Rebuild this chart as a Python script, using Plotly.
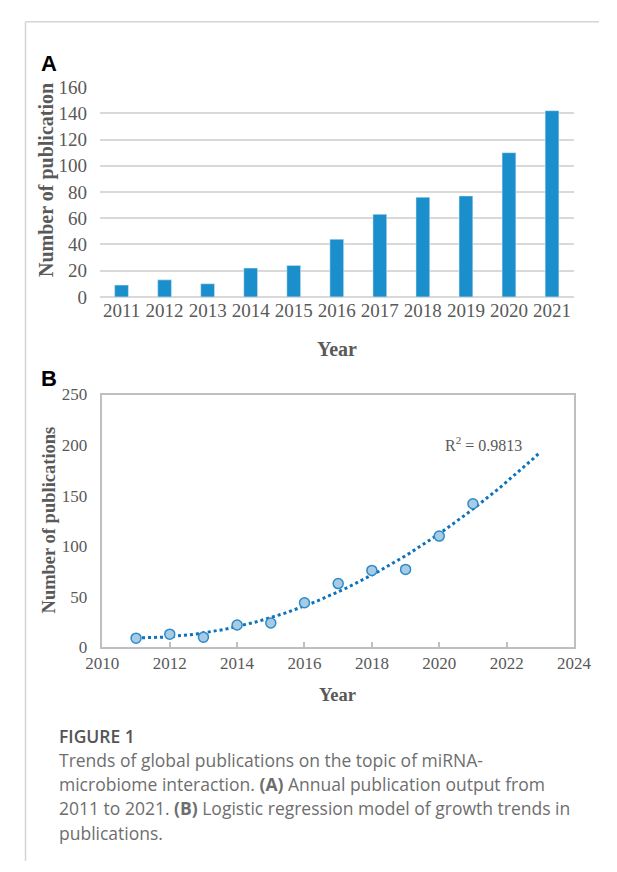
import numpy as np
import plotly.graph_objects as go

# ---- data ----
years = [2011, 2012, 2013, 2014, 2015, 2016, 2017, 2018, 2019, 2020, 2021]
publications = [9, 13, 10, 22, 24, 44, 63, 76, 77, 110, 142]
year_labels = [str(y) for y in years]
r2_text = "R<sup>2</sup> = 0.9813"
caption_title = "FIGURE 1"
caption_lines = [
    "Trends of global publications on the topic of miRNA-",
    "microbiome interaction. <b>(A)</b> Annual publication output from",
    "2011 to 2021. <b>(B)</b> Logistic regression model of growth trends in",
    "publications.",
]

W, H = 617, 872
def px(x): return x / W
def py(y): return 1 - y / H

SERIF = "Liberation Serif, Times New Roman, serif"
SANS = "Liberation Sans, Arial, sans-serif"
CAP = "Open Sans, sans-serif"
TICK_C = "#595959"

# trend line: quadratic fit of the data, extended to 2023
coef = np.polyfit(np.array(years) - 2011, publications, 2)
tx = np.linspace(2011, 2023, 121)
ty = np.polyval(coef, tx - 2011)

fig = go.Figure()
fig.add_trace(go.Bar(x=year_labels, y=publications, marker_color="#1B8FCB",
                     xaxis="x", yaxis="y", showlegend=False))
fig.add_trace(go.Scatter(x=tx, y=ty, mode="lines",
                         line=dict(color="#0A72BE", width=3, dash="dot"),
                         xaxis="x2", yaxis="y2", showlegend=False))
fig.add_trace(go.Scatter(x=years, y=publications, mode="markers",
                         marker=dict(size=10, color="#A7CBE4",
                                     line=dict(color="#2E8BC8", width=1.5)),
                         xaxis="x2", yaxis="y2", showlegend=False))

fig.update_layout(
    width=W, height=H, margin=dict(l=0, r=0, t=0, b=0),
    paper_bgcolor="white", plot_bgcolor="white",
    bargap=0.68,
    xaxis=dict(domain=[px(88), px(590)], anchor="y", type="category",
               showgrid=False, showline=False, ticks="",
               tickfont=dict(family=SERIF, size=19, color=TICK_C)),
    yaxis=dict(domain=[py(294), py(79)], anchor="x", range=[0, 160],
               dtick=20, showgrid=True, gridcolor="#D9D9D9", gridwidth=1.5,
               zeroline=True, zerolinecolor="#D9D9D9", zerolinewidth=1.5,
               showline=False, ticks="", ticklabelstandoff=12,
               tickfont=dict(family=SERIF, size=19, color=TICK_C)),
    xaxis2=dict(domain=[px(90.5), px(590.5)], anchor="y2", range=[2010, 2024],
                dtick=2, showgrid=False, zeroline=False,
                showline=True, linecolor="#BFBFBF", linewidth=1.5, mirror=True,
                ticks="inside", ticklen=6, tickcolor="#BFBFBF", tickwidth=1.5,
                tickfont=dict(family=SERIF, size=17, color=TICK_C)),
    yaxis2=dict(domain=[py(653), py(394)], anchor="x2", range=[0, 250],
                dtick=50, showgrid=False, zeroline=False,
                showline=True, linecolor="#BFBFBF", linewidth=1.5, mirror=True,
                ticks="", ticklabelstandoff=10,
                tickfont=dict(family=SERIF, size=17, color=TICK_C)),
)

ann = []
ann.append(dict(text="<b>A</b>", x=px(23), y=py(55), xanchor="left", yanchor="middle",
                font=dict(family=SANS, size=22, color="black")))
ann.append(dict(text="<b>B</b>", x=px(23), y=py(378), xanchor="left", yanchor="middle",
                font=dict(family=SANS, size=22, color="black")))
ann.append(dict(text="<b>Year</b>", x=px(339), y=py(347), xanchor="center", yanchor="middle",
                font=dict(family=SERIF, size=20, color=TICK_C)))
ann.append(dict(text="<b>Number of publication</b>", x=px(32), y=py(174), textangle=-90,
                xanchor="center", yanchor="middle",
                font=dict(family=SERIF, size=20, color=TICK_C)))
ann.append(dict(text="<b>Year</b>", x=px(340), y=py(702), xanchor="center", yanchor="middle",
                font=dict(family=SERIF, size=18.5, color=TICK_C)))
ann.append(dict(text="<b>Number of publications</b>", x=px(34), y=py(523), textangle=-90,
                xanchor="center", yanchor="middle",
                font=dict(family=SERIF, size=18.5, color=TICK_C)))
ann.append(dict(text=r2_text, x=2021.3, y=201, xref="x2", yref="y2",
                xanchor="center", yanchor="middle",
                font=dict(family=SERIF, size=16, color=TICK_C)))
ann.append(dict(text=caption_title, x=px(42), y=py(744), xanchor="left", yanchor="middle",
                font=dict(family=CAP, size=17.5, color="#555555", weight=600)))
for i, line in enumerate(caption_lines):
    ann.append(dict(text=line, x=px(42), y=py(768 + 25 * i), xanchor="left", yanchor="middle",
                    font=dict(family=CAP, size=17.5, color="#6E6E6E")))
for a in ann:
    a.setdefault("xref", "paper")
    a.setdefault("yref", "paper")
    a["showarrow"] = False
fig.update_layout(annotations=ann)

# card border (top and left edges)
fig.add_shape(type="line", xref="paper", yref="paper", x0=px(9), x1=1, y0=py(12), y1=py(12),
              line=dict(color="#D5D5D5", width=1.5))
fig.add_shape(type="line", xref="paper", yref="paper", x0=px(9), x1=px(9), y0=py(12), y1=0,
              line=dict(color="#D5D5D5", width=1.5))

fig.write_html("out.html")
